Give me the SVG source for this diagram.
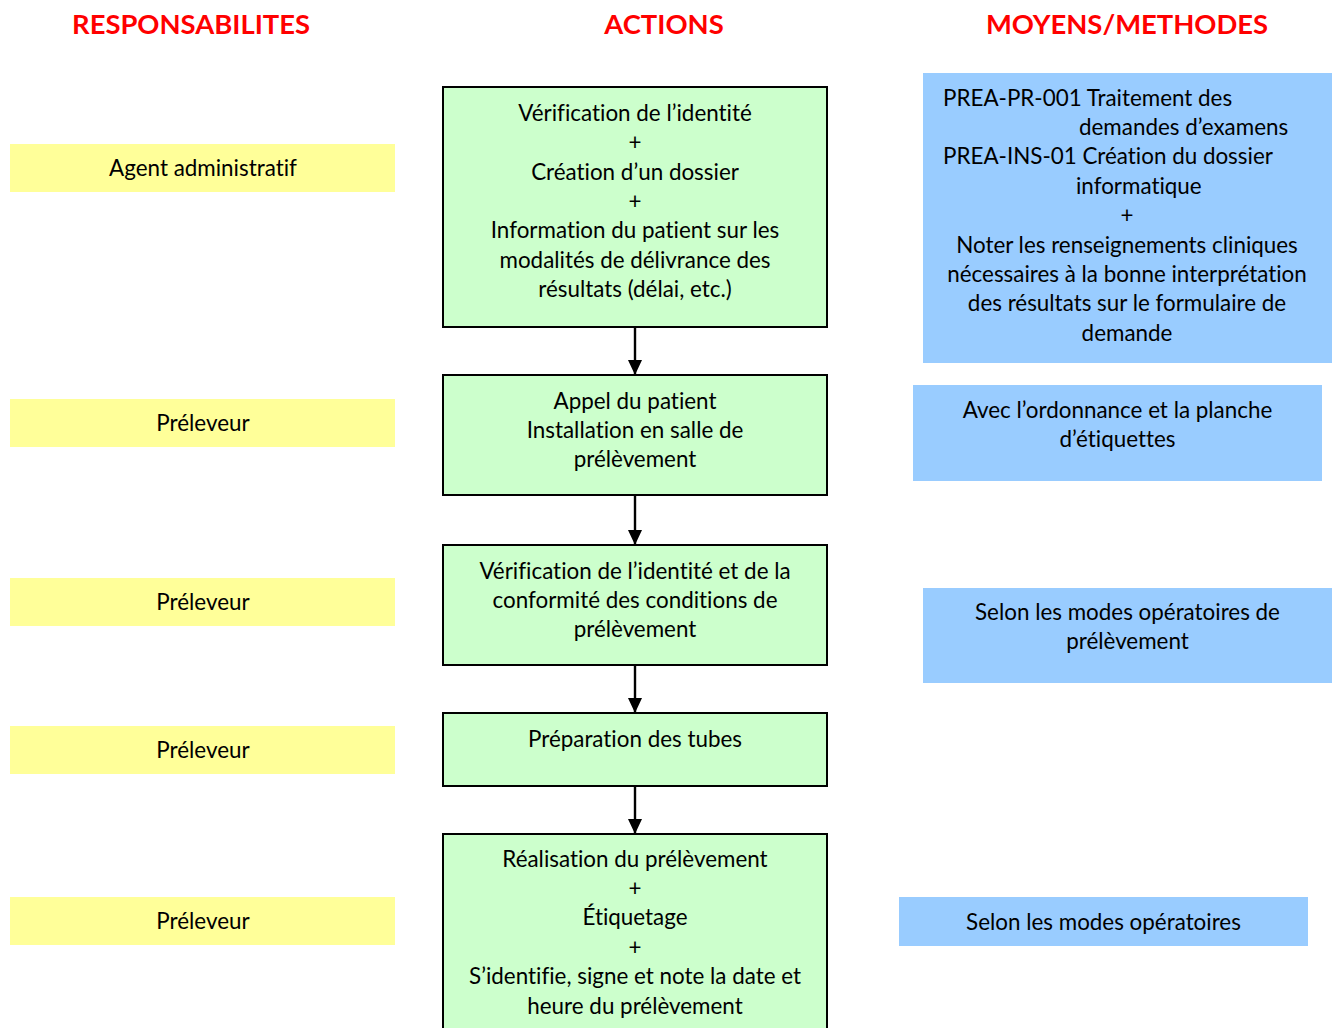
<svg xmlns="http://www.w3.org/2000/svg" width="1336" height="1028" viewBox="0 0 1336 1028">
<defs>
<style>
.t{font-family:Lato,"Liberation Sans",sans-serif;font-size:22.4px;fill:#000;text-anchor:middle;font-variant-ligatures:none}
.s{text-anchor:start}
.h{font-family:Lato,"Liberation Sans",sans-serif;font-size:27.4px;font-weight:bold;fill:#ff0000;text-anchor:middle}
.y{fill:#ffff99}
.g{fill:#ccffcc;stroke:#000;stroke-width:2}
.b{fill:#99ccff}
.c{stroke:#000;stroke-width:2.4;fill:none}
</style>
<marker id="ah" markerUnits="userSpaceOnUse" markerWidth="16" markerHeight="16" viewBox="0 0 16 16" refX="15" refY="8" orient="auto">
<path d="M0,1 L15,8 L0,15 Z" fill="#000"/>
</marker>
</defs>
<rect width="1336" height="1028" fill="#fff"/>
<g id="headers">
<text class="h" x="191" y="34">RESPONSABILITES</text>
<text class="h" x="664" y="34">ACTIONS</text>
<text class="h" x="1127" y="34">MOYENS/METHODES</text>
</g>
<g id="resp1"><rect class="y" x="10" y="144" width="385" height="48"/><text class="t" x="203" y="176">Agent administratif</text></g>
<g id="resp2"><rect class="y" x="10" y="399" width="385" height="48"/><text class="t" x="203" y="431">Préleveur</text></g>
<g id="resp3"><rect class="y" x="10" y="578" width="385" height="48"/><text class="t" x="203" y="610">Préleveur</text></g>
<g id="resp4"><rect class="y" x="10" y="726" width="385" height="48"/><text class="t" x="203" y="758">Préleveur</text></g>
<g id="resp5"><rect class="y" x="10" y="897" width="385" height="48"/><text class="t" x="203" y="929">Préleveur</text></g>
<g id="action1"><rect class="g" x="443" y="87" width="384" height="240"/>
<text class="t" x="635" y="120.5">Vérification de l’identité</text>
<text class="t" x="635" y="150">+</text>
<text class="t" x="635" y="179.5">Création d’un dossier</text>
<text class="t" x="635" y="208.8">+</text>
<text class="t" x="635" y="238.2">Information du patient sur les</text>
<text class="t" x="635" y="267.6">modalités de délivrance des</text>
<text class="t" x="635" y="297">résultats (délai, etc.)</text>
</g>
<g id="action2"><rect class="g" x="443" y="375" width="384" height="120"/>
<text class="t" x="635" y="408.5">Appel du patient</text>
<text class="t" x="635" y="437.9">Installation en salle de</text>
<text class="t" x="635" y="467.3">prélèvement</text>
</g>
<g id="action3"><rect class="g" x="443" y="545" width="384" height="120"/>
<text class="t" x="635" y="578.5">Vérification de l’identité et de la</text>
<text class="t" x="635" y="607.9">conformité des conditions de</text>
<text class="t" x="635" y="637.3">prélèvement</text>
</g>
<g id="action4"><rect class="g" x="443" y="713" width="384" height="73"/>
<text class="t" x="635" y="746.7">Préparation des tubes</text>
</g>
<g id="action5"><rect class="g" x="443" y="834" width="384" height="200"/>
<text class="t" x="635" y="866.7">Réalisation du prélèvement</text>
<text class="t" x="635" y="896">+</text>
<text class="t" x="635" y="925.4">Étiquetage</text>
<text class="t" x="635" y="954.8">+</text>
<text class="t" x="635" y="984.2">S’identifie, signe et note la date et</text>
<text class="t" x="635" y="1013.6">heure du prélèvement</text>
</g>
<g id="means1"><rect class="b" x="923" y="73" width="409" height="290"/>
<text class="t s" x="943" y="105.5">PREA-PR-001 Traitement des</text>
<text class="t s" x="1079" y="134.9">demandes d’examens</text>
<text class="t s" x="943" y="164.3">PREA-INS-01 Création du dossier</text>
<text class="t s" x="1076" y="193.7">informatique</text>
<text class="t" x="1127" y="223.1">+</text>
<text class="t" x="1127" y="252.5">Noter les renseignements cliniques</text>
<text class="t" x="1127" y="281.9">nécessaires à la bonne interprétation</text>
<text class="t" x="1127" y="311.3">des résultats sur le formulaire de</text>
<text class="t" x="1127" y="340.7">demande</text>
</g>
<g id="means2"><rect class="b" x="913" y="385" width="409" height="96"/>
<text class="t" x="1117.5" y="417.7">Avec l’ordonnance et la planche</text>
<text class="t" x="1117.5" y="447.1">d’étiquettes</text>
</g>
<g id="means3"><rect class="b" x="923" y="588" width="409" height="95"/>
<text class="t" x="1127.5" y="620">Selon les modes opératoires de</text>
<text class="t" x="1127.5" y="649.4">prélèvement</text>
</g>
<g id="means4"><rect class="b" x="899" y="897" width="409" height="49"/>
<text class="t" x="1103.5" y="930">Selon les modes opératoires</text>
</g>
<g id="connectors">
<line class="c" x1="635" y1="327" x2="635" y2="375" marker-end="url(#ah)"/>
<line class="c" x1="635" y1="495" x2="635" y2="545" marker-end="url(#ah)"/>
<line class="c" x1="635" y1="665" x2="635" y2="713" marker-end="url(#ah)"/>
<line class="c" x1="635" y1="786" x2="635" y2="834" marker-end="url(#ah)"/>
</g>
</svg>
